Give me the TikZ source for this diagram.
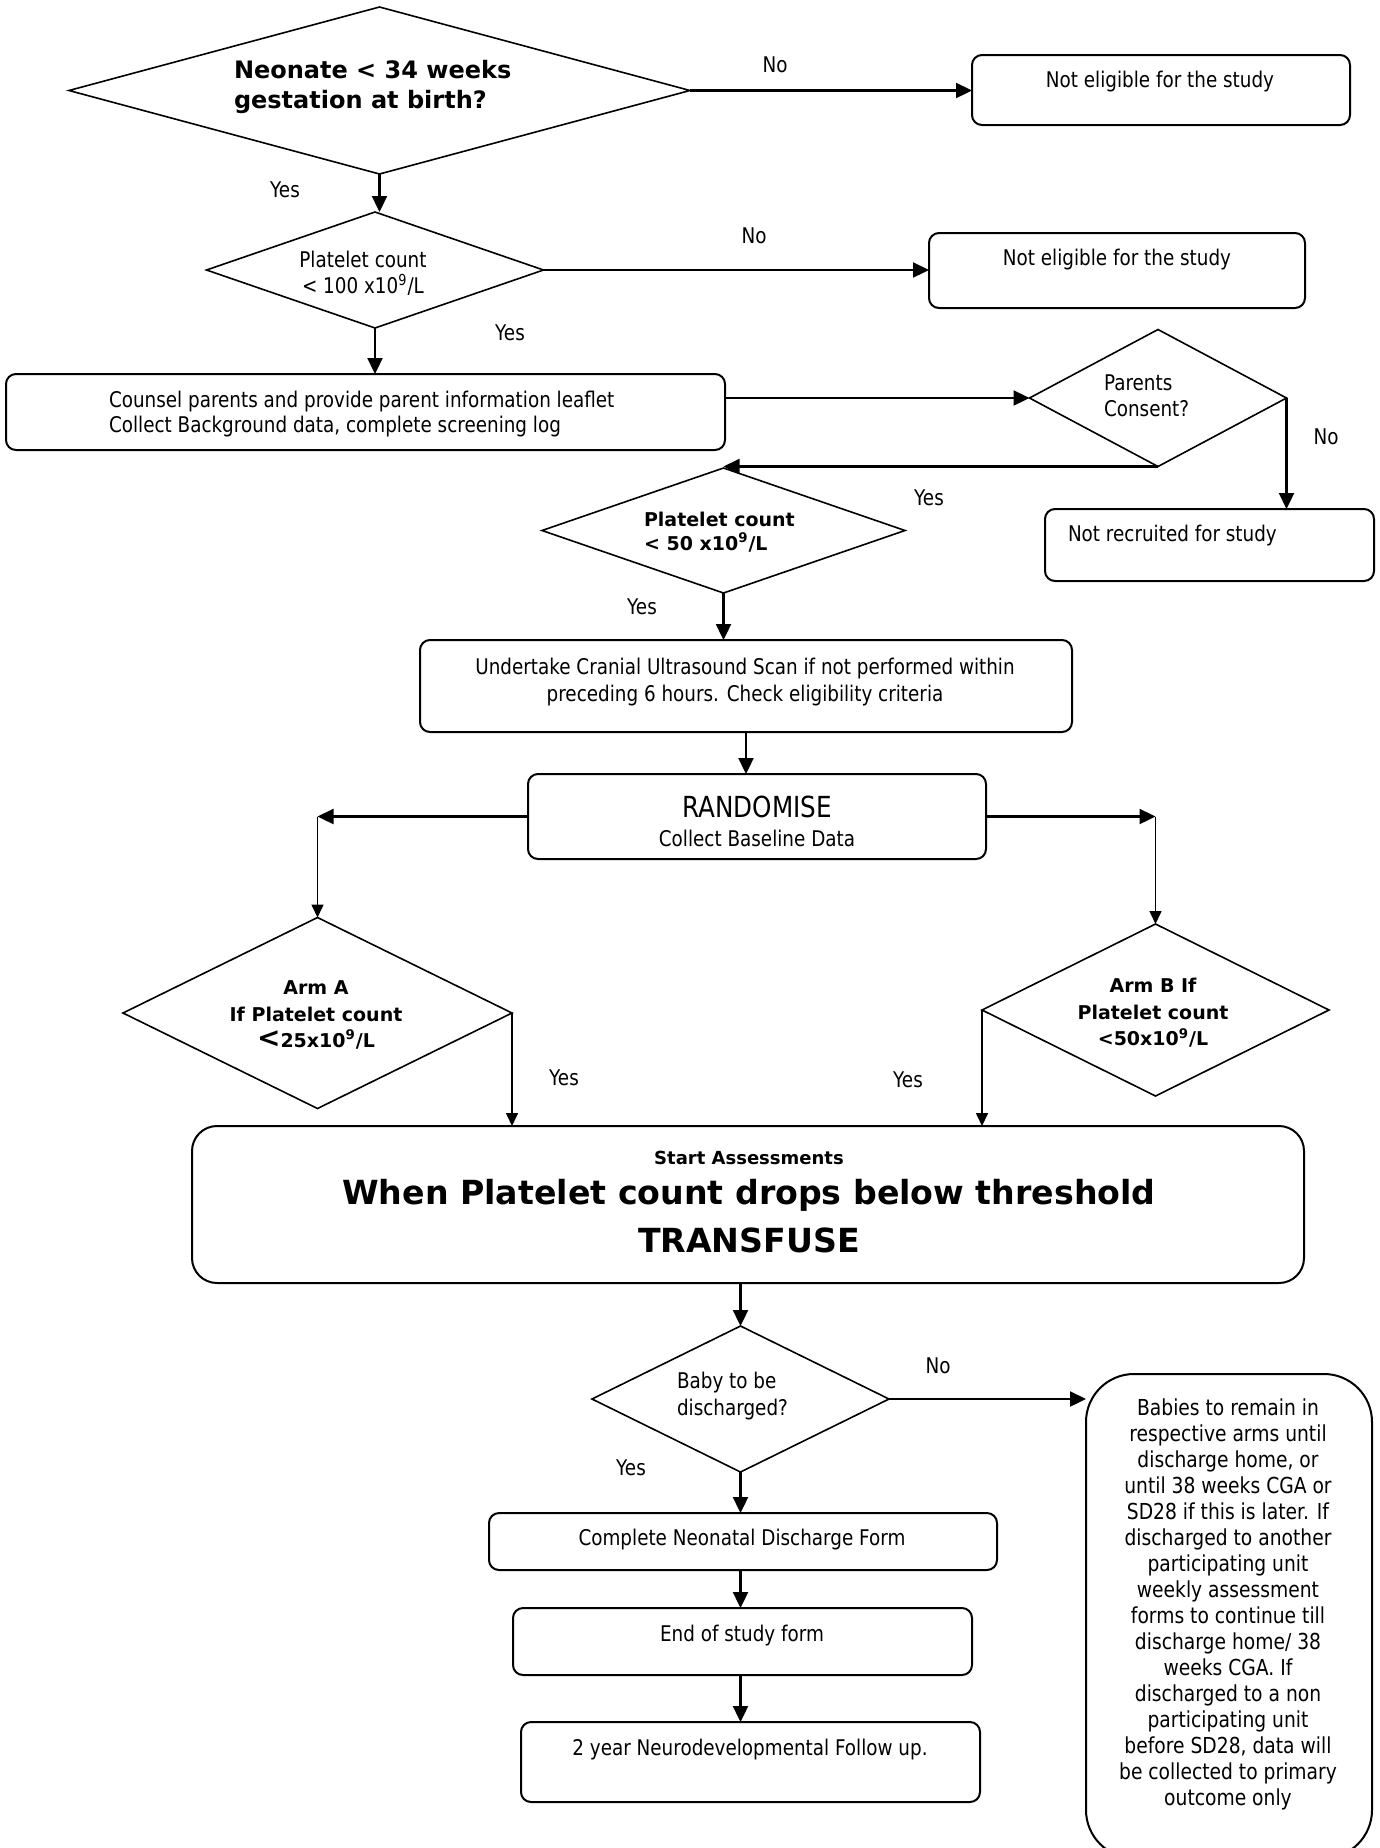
\documentclass[tikz,border=0pt]{standalone}
\usepackage{fontspec}
\setmainfont{DejaVu Sans}[FakeStretch=0.85]
\newfontfamily\widefam{DejaVu Sans}
\newcommand\boldw{\widefam\bfseries}
\usetikzlibrary{shapes.geometric,arrows.meta,calc}
\begin{document}
\begin{tikzpicture}[x=0.5pt,y=-0.5pt,
  every node/.style={inner sep=0pt, outer sep=0pt},
  dia/.style 2 args={draw, line width=0.8pt, diamond, minimum width=#1*0.5pt, minimum height=#2*0.5pt},
  box/.style 2 args={draw, line width=1pt, rectangle, rounded corners=5pt, minimum width=#1*0.5pt, minimum height=#2*0.5pt},
  txt/.style={font=\fontsize{10.8}{12.5}\selectfont},
  txtw/.style={font=\fontsize{10.8}{13.2}\selectfont},
  btxt/.style={font=\boldw\fontsize{9.5}{13.2}\selectfont},
  arr/.style={line width=1.15pt, -{Triangle[length=8pt,width=7.5pt]}},
  arrthin/.style={line width=0.8pt, -{Triangle[length=6.5pt,width=6pt]}},
]
\useasboundingbox (0,0) rectangle (1380,1848);
\fill[white] (0,0) rectangle (1380,1848);

% ---------- shapes ----------
\node[dia={621}{167}] (D1) at (379.5,90.5) {};
\node[font=\boldw\fontsize{12}{15}\selectfont, align=left, anchor=west] (D1t) at (234,87) {Neonate < 34 weeks\\gestation at birth?};

\node[box={378}{70}] (NE1) at (1161,90) {};
\node[txt] (NE1t) at (1160,82) {Not eligible for the study};

\node[dia={337}{116}] (D2) at (375,270) {};
\node[txtw, align=center] (D2t) at (363,273) {Platelet count\\< 100 x10\textsuperscript{9}/L};

\node[box={376}{75}] (NE2) at (1117,270.5) {};
\node[txt] (NE2t) at (1117,260) {Not eligible for the study};

\node[box={719}{76}] (CO) at (365.5,412) {};
\node[txt, align=left, anchor=west] (COt) at (109,414) {Counsel parents and provide parent information leaflet\\Collect Background data, complete screening log};

\node[dia={257}{137}] (PC) at (1158,398) {};
\node[txtw, align=left, anchor=west] (PCt) at (1104,396) {Parents\\Consent?};

\node[box={329}{72}] (NR) at (1209.5,545) {};
\node[txt, anchor=west] (NRt) at (1068,536) {Not recruited for study};

\node[dia={363}{125}] (D3) at (723.5,530.5) {};
\node[font=\boldw\fontsize{9.5}{12}\selectfont, align=left, anchor=west] (D3t) at (644,532) {Platelet count\\< 50 x10\textsuperscript{9}/L};

\node[box={652}{92}] (CR) at (746,686) {};
\node[txtw, align=center] (CRt) at (745,682) {Undertake Cranial Ultrasound Scan if not performed within\\preceding 6 hours. Check eligibility criteria};

\node[box={458}{85}] (RA) at (757,816.5) {};
\node[font=\fontsize{14.5}{16}\selectfont] (RAt1) at (757,807) {RANDOMISE};
\node[txt] (RAt2) at (757,838) {Collect Baseline Data};

\node[dia={389}{191}] (AA) at (317.5,1013) {};
\node[btxt, align=center] (AAt) at (316,1015) {Arm A\\If Platelet count\\{\fontsize{14}{14}\selectfont<}25x10\textsuperscript{9}/L};

\node[dia={347}{172}] (AB) at (1155.5,1010) {};
\node[btxt, align=center] (ABt) at (1153,1013) {Arm B If\\Platelet count\\<50x10\textsuperscript{9}/L};

\node[box={1112}{157}, rounded corners=12.5pt] (TR) at (748,1204.5) {};
\node[font=\boldw\fontsize{9}{10}\selectfont] (TRt1) at (749,1158) {Start Assessments};
\node[font=\boldw\fontsize{16.6}{18}\selectfont] (TRt2) at (749,1195) {When Platelet count drops below threshold};
\node[font=\boldw\fontsize{16.6}{18}\selectfont] (TRt3) at (749,1240) {TRANSFUSE};

\node[dia={297}{146}] (BB) at (740.5,1399) {};
\node[txtw, align=left, anchor=west] (BBt) at (677,1396) {Baby to be\\discharged?};

\node[box={286}{484}, rounded corners=24pt] (TL) at (1229,1616) {};
\node[font=\fontsize{11}{13}\selectfont, align=center] (TLt) at (1228,1604) {Babies to remain in\\respective arms until\\discharge home, or\\until 38 weeks CGA or\\SD28 if this is later. If\\discharged to another\\participating unit\\weekly assessment\\forms to continue till\\discharge home/ 38\\weeks CGA. If\\discharged to a non\\participating unit\\before SD28, data will\\be collected to primary\\outcome only};

\node[box={508}{57}] (CN) at (743,1541.5) {};
\node[txt] (CNt) at (742,1540) {Complete Neonatal Discharge Form};

\node[box={459}{67}] (EO) at (742.5,1641.5) {};
\node[txt] (EOt) at (742,1636) {End of study form};

\node[box={459}{80}] (FU) at (750.5,1762) {};
\node[txt] (FUt) at (750,1750) {2 year Neurodevelopmental Follow up.};

% ---------- connectors ----------
\draw[arr] (D1.east) -- (D1.east -| NE1.west);
\draw[arr] (D1.south) -- (D1.south |- D2.north);
\draw[arr] (D2.east) -- (D2.east -| NE2.west);
\draw[arr] (D2.south) -- (D2.south |- CO.north);
\draw[arr] (CO.east |- PC.west) -- (PC.west);
\draw[arr] (PC.east) -- (PC.east |- NR.north);
\draw[arr] (PC.south) -- (PC.south -| D3.north);
\draw[arr] (D3.south) -- (D3.south |- CR.north);
\draw[arr] (CR.south) -- (CR.south |- RA.north);
\coordinate (cA) at (AA.north |- RA.west);
\coordinate (cB) at (AB.north |- RA.east);
\draw[arr] (RA.west) -- (cA);
\draw[arrthin] (cA) -- (AA.north);
\draw[arr] (RA.east) -- (cB);
\draw[arrthin] (cB) -- (AB.north);
\draw[arrthin] (AA.east) -- (AA.east |- TR.north);
\draw[arrthin] (AB.west) -- (AB.west |- TR.north);
\draw[arr] (BB.north |- TR.south) -- (BB.north);
\draw[arr] (BB.east) -- (BB.east -| TL.west);
\draw[arr] (BB.south) -- (BB.south |- CN.north);
\draw[arr] (BB.south |- CN.south) -- (BB.south |- EO.north);
\draw[arr] (BB.south |- EO.south) -- (BB.south |- FU.north);

% ---------- labels ----------
\node[txt] (L1) at (775,65) {No};
\node[txt] (L2) at (285,190) {Yes};
\node[txt] (L3) at (754,236) {No};
\node[txt] (L4) at (510,333) {Yes};
\node[txt] (L5) at (1326,437) {No};
\node[txt] (L6) at (929,498) {Yes};
\node[txt] (L7) at (642,607) {Yes};
\node[txt] (L8) at (564,1078) {Yes};
\node[txt] (L9) at (908,1080) {Yes};
\node[txt] (L10) at (938,1366) {No};
\node[txt] (L11) at (631,1468) {Yes};
\end{tikzpicture}
\end{document}
